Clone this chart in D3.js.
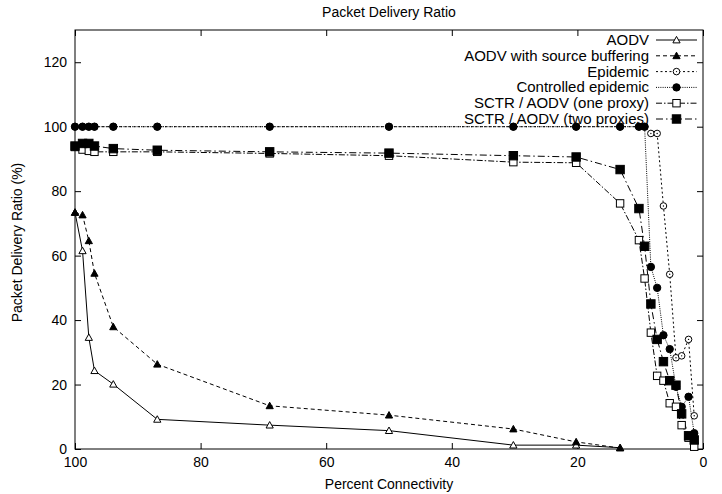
<!DOCTYPE html>
<html><head><meta charset="utf-8">
<script src="https://cdn.jsdelivr.net/npm/d3@7"></script>
<style>body{margin:0;background:#fff}svg{display:block}text{font-family:"Liberation Sans",Arial,Helvetica,sans-serif}</style>
</head><body>
<svg id="c" width="722" height="494"></svg>
<script>
const conn = [100, 98.8, 97.8, 96.9, 93.9, 86.9, 69, 50, 30.2, 20.2, 13.2, 10.2, 9.3, 8.3, 7.3, 6.3, 5.3, 4.3, 3.4, 2.3, 1.4];
const aodv = [73.4, 61.5, 34.6, 24.3, 20.1, 9.2, 7.4, 5.7, 1.2, 1.2, 0.4];
const aodvSB = [73.4, 72.6, 64.6, 54.5, 37.9, 26.3, 13.4, 10.5, 6.2, 2.2, 0.3];
const epidemic = [100, 100, 100, 100, 100, 100, 100, 100, 100, 100, 100, 100, 100, 97.9, 97.9, 75.4, 54.2, 28.3, 28.9, 34.0, 10.3];
const ctrlEpidemic = [100, 100, 100, 100, 100, 100, 100, 100, 100, 100, 100, 100, 100, 56.5, 50.0, 35.3, 31.0, 19.3, 13.1, 16.2, 4.9];
const sctrOne = [93.7, 92.9, 92.5, 92.2, 92.2, 92.2, 91.7, 91.0, 89.0, 88.8, 76.2, 64.8, 52.9, 36.1, 22.7, 21.2, 14.2, 13.1, 7.4, 3.5, 0.7];
const sctrTwo = [94.0, 94.8, 94.8, 94.0, 93.2, 92.7, 92.2, 91.8, 91.0, 90.6, 86.7, 74.6, 62.9, 45.0, 34.0, 27.1, 21.2, 19.8, 10.9, 4.1, 2.8];
const seriesNames = ["AODV", "AODV with source buffering", "Epidemic", "Controlled epidemic", "SCTR / AODV (one proxy)", "SCTR / AODV (two proxies)"];
const xTicks = [100, 80, 60, 40, 20, 0];
const yTicks = [0, 20, 40, 60, 80, 100, 120];

const series = [
  {name: seriesNames[0], vals: aodv, dash: null, mark: "triOpen"},
  {name: seriesNames[1], vals: aodvSB, dash: "4,3", mark: "triFill"},
  {name: seriesNames[2], vals: epidemic, dash: "2,2.5", mark: "circOpen"},
  {name: seriesNames[3], vals: ctrlEpidemic, dash: "1,1.2", mark: "circFill"},
  {name: seriesNames[4], vals: sctrOne, dash: "6,2,1.5,2", mark: "sqOpen"},
  {name: seriesNames[5], vals: sctrTwo, dash: "7,3,1.5,3", mark: "sqFill"}
];

const L = 75, R = 703, T = 30, B = 449;
const svg = d3.select("#c");
const x = d3.scaleLinear().domain([100, 0]).range([L, R]);
const y = d3.scaleLinear().domain([0, 130]).range([B, T]);

const fs = "14px";
const gB = svg.append("g").attr("transform", `translate(0,${B})`)
  .call(d3.axisBottom(x).tickValues(xTicks).tickSize(-6).tickPadding(8).tickSizeOuter(0));
const gT = svg.append("g").attr("transform", `translate(0,${T})`)
  .call(d3.axisTop(x).tickValues(xTicks).tickSize(-6).tickFormat("").tickSizeOuter(0));
const gL = svg.append("g").attr("transform", `translate(${L},0)`)
  .call(d3.axisLeft(y).tickValues(yTicks).tickSize(-6).tickPadding(8).tickSizeOuter(0));
const gR = svg.append("g").attr("transform", `translate(${R},0)`)
  .call(d3.axisRight(y).tickValues(yTicks).tickSize(-6).tickFormat("").tickSizeOuter(0));
[gB, gT, gL, gR].forEach(g => {
  g.select(".domain").remove();
  g.selectAll("line").attr("stroke", "#000");
  g.selectAll("text").attr("fill", "#000").style("font-size", fs).style("font-family", '"Liberation Sans",Arial,sans-serif');
});
svg.append("rect").attr("x", L).attr("y", T).attr("width", R - L).attr("height", B - T)
  .attr("fill", "none").attr("stroke", "#000").attr("stroke-width", 1);

svg.append("text").attr("x", 389).attr("y", 17).attr("text-anchor", "middle").style("font-size", fs).text("Packet Delivery Ratio");
svg.append("text").attr("x", 389).attr("y", 489).attr("text-anchor", "middle").style("font-size", fs).text("Percent Connectivity");
svg.append("text").attr("transform", `translate(22,${(T + B) / 2 + 3}) rotate(-90)`).attr("text-anchor", "middle").style("font-size", fs).text("Packet Delivery Ratio (%)");

function drawMark(g, type, cx, cy) {
  const s = 3.6;
  if (type.startsWith("tri")) {
    g.append("path").attr("d", `M${cx},${cy - s}L${cx + s},${cy + s * 0.8}L${cx - s},${cy + s * 0.8}Z`)
      .attr("fill", type === "triFill" ? "#000" : "#fff").attr("stroke", "#000").attr("stroke-width", 1);
  } else if (type.startsWith("circ")) {
    g.append("circle").attr("cx", cx).attr("cy", cy).attr("r", type === "circFill" ? 3.7 : 3.3)
      .attr("fill", type === "circFill" ? "#000" : "#fff").attr("stroke", "#000").attr("stroke-width", 1);
    if (type === "circOpen") g.append("circle").attr("cx", cx).attr("cy", cy).attr("r", 0.7).attr("fill", "#000");
  } else {
    const h = type === "sqFill" ? 4.2 : 3.7;
    g.append("rect").attr("x", cx - h).attr("y", cy - h).attr("width", 2 * h).attr("height", 2 * h)
      .attr("fill", type === "sqFill" ? "#000" : "#fff").attr("stroke", "#000").attr("stroke-width", 1);
  }
}

const line = d3.line().x(d => x(d[0])).y(d => y(d[1]));
const plot = svg.append("g");
series.forEach(s => {
  const pts = s.vals.map((v, i) => [conn[i], v]);
  plot.append("path").datum(pts).attr("d", line).attr("fill", "none").attr("stroke", "#000")
    .attr("stroke-width", 1).attr("stroke-dasharray", s.dash);
});
series.forEach(s => {
  const g = plot.append("g");
  s.vals.forEach((v, i) => drawMark(g, s.mark, x(conn[i]), y(v)));
});

const lg = svg.append("g");
series.forEach((s, i) => {
  const ly = 40 + i * 15.8;
  lg.append("text").attr("x", 649).attr("y", ly + 5).attr("text-anchor", "end").style("font-size", "15px").text(s.name);
  lg.append("line").attr("x1", 656).attr("x2", 697).attr("y1", ly).attr("y2", ly).attr("stroke", "#000")
    .attr("stroke-width", 1).attr("stroke-dasharray", s.dash);
  drawMark(lg, s.mark, 676.5, ly);
});
</script>
</body></html>
